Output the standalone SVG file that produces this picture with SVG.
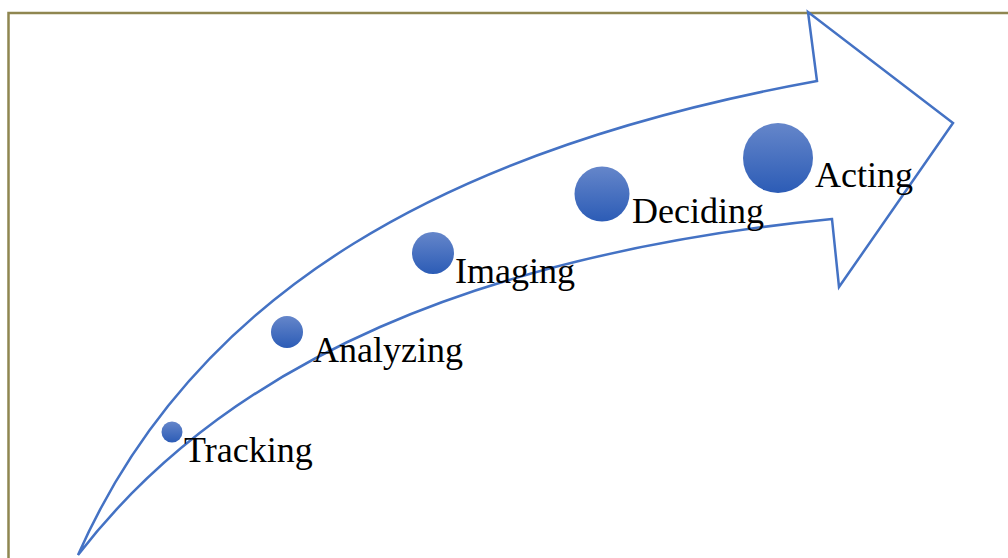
<svg xmlns="http://www.w3.org/2000/svg" width="1008" height="558" viewBox="0 0 1008 558">
  <defs>
    <linearGradient id="dotFill" x1="0" y1="0" x2="0" y2="1">
      <stop offset="0" stop-color="#6586ca"/>
      <stop offset="1" stop-color="#2c5cb6"/>
    </linearGradient>
    <style>
      .frame { fill: none; stroke: #8f8650; stroke-width: 2.5; }
      .arrow { fill: none; stroke: #4472c4; stroke-width: 2.5; stroke-linejoin: miter; }
      .dot { fill: url(#dotFill); }
      .label { font-family: "Liberation Serif", "Times New Roman", serif; font-size: 36px; fill: #000; }
    </style>
  </defs>

  <rect width="1008" height="558" fill="#ffffff"/>
  <!-- outer frame, running off the right and bottom edges -->
  <rect class="frame" x="8.5" y="13" width="1010" height="560"/>

  <!-- curved progress arrow -->
  <g id="connectors">
    <path class="arrow" d="M 78 555 C 195 290 449 148 817 81 L 808 12 L 953 123 L 839 287 L 832 219 C 482 254 228 360 78 555 Z"/>
  </g>

  <g id="tracking">
    <circle class="dot" cx="172" cy="432" r="10.5"/>
    <text class="label" x="184" y="462">Tracking</text>
  </g>
  <g id="analyzing">
    <circle class="dot" cx="287" cy="332" r="16"/>
    <text class="label" x="313" y="362">Analyzing</text>
  </g>
  <g id="imaging">
    <circle class="dot" cx="433" cy="253" r="21"/>
    <text class="label" x="455" y="283">Imaging</text>
  </g>
  <g id="deciding">
    <circle class="dot" cx="602" cy="194" r="27.5"/>
    <text class="label" x="632" y="223">Deciding</text>
  </g>
  <g id="acting">
    <circle class="dot" cx="778" cy="158" r="35"/>
    <text class="label" x="815" y="187">Acting</text>
  </g>
</svg>
